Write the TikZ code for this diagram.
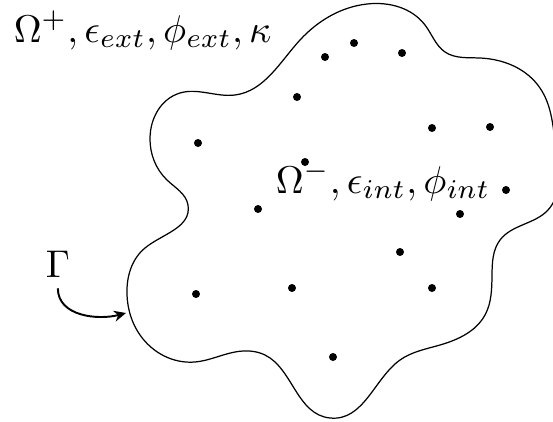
\documentclass[tikz,border=0pt]{standalone}
\usepackage{amsmath,amssymb}
\usetikzlibrary{arrows.meta,positioning,hobby}

\begin{document}
\begin{tikzpicture}
  \useasboundingbox (0,0) rectangle (11.06,8.42);
  \draw[line width=0.7pt,use Hobby shortcut,closed=true]
    (3.00,5.66) .. (3.60,6.56) .. (4.70,6.52) .. (6.00,7.62) .. (7.34,8.34)
    .. (8.50,7.92) .. (8.90,7.38) .. (9.60,7.26) .. (10.80,6.66) .. (11.12,5.42)
    .. (10.96,4.22) .. (10.00,3.62) .. (9.84,2.92) .. (9.70,2.12) .. (8.80,1.52)
    .. (8.00,1.22) .. (6.60,0.06) .. (5.30,1.32) .. (4.70,1.38) .. (3.90,1.18)
    .. (2.80,1.72) .. (2.54,2.52) .. (2.90,3.46) .. (3.76,4.32) .. (3.34,4.82);
  \fill (7.08,7.56) circle (0.08);
  \fill (6.50,7.28) circle (0.08);
  \fill (8.04,7.36) circle (0.08);
  \fill (5.94,6.48) circle (0.08);
  \fill (8.64,5.86) circle (0.08);
  \fill (9.80,5.88) circle (0.08);
  \fill (3.96,5.56) circle (0.08);
  \fill (6.10,5.18) circle (0.08);
  \fill (10.12,4.62) circle (0.08);
  \fill (5.16,4.24) circle (0.08);
  \fill (9.20,4.14) circle (0.08);
  \fill (8.00,3.38) circle (0.08);
  \fill (5.84,2.66) circle (0.08);
  \fill (3.92,2.54) circle (0.08);
  \fill (8.64,2.66) circle (0.08);
  \fill (6.66,1.28) circle (0.08);
  \node[anchor=base west,scale=2.2,inner sep=0pt] (ext) at (0.26,7.58) {$\Omega^+,\epsilon_{ext},\phi_{ext},\kappa$};
  \node[anchor=base west,scale=2.2,inner sep=0pt] (int) at (5.50,4.56) {$\Omega^-,\epsilon_{int},\phi_{int}$};
  \node[anchor=base west,scale=2.2,inner sep=0pt] (gam) at (0.90,2.88) {$\Gamma$};
  \coordinate (bdry) at (2.52,2.16);
  \draw[-{Stealth[length=2.4mm,width=2.2mm]},line width=1.1pt] ([yshift=-6pt]gam.south) to[out=-90,in=195] (bdry);
\end{tikzpicture}
\end{document}
